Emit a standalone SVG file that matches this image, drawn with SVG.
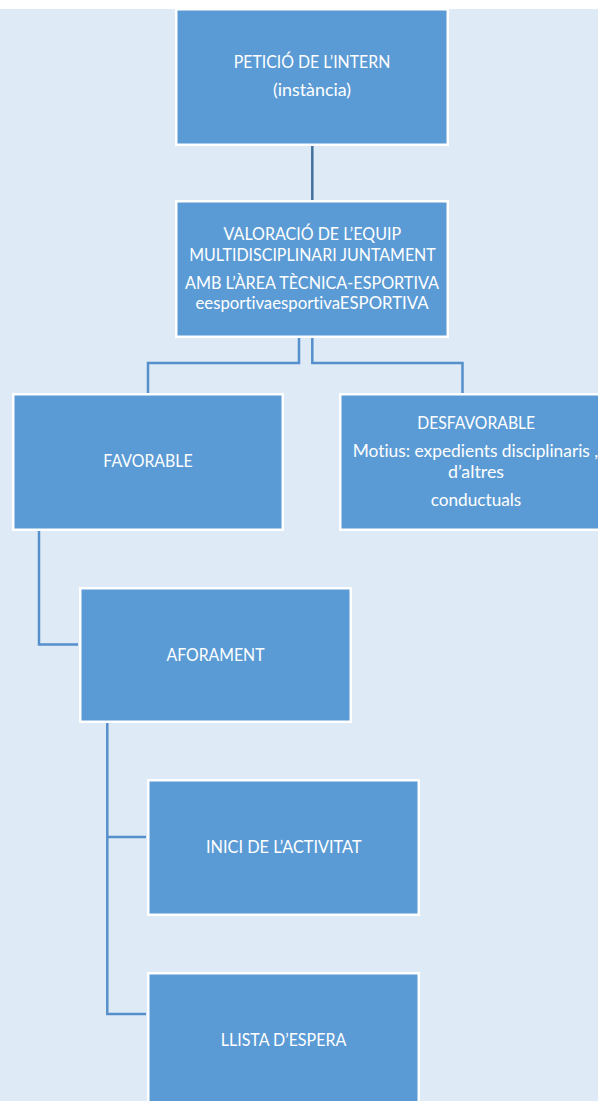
<svg xmlns="http://www.w3.org/2000/svg" width="598" height="1101" viewBox="0 0 598 1101">
  <style>
    .bg { fill: #DEEAF6; }
    .box { fill: #5B9BD5; stroke: #FFFFFF; stroke-width: 2.5; }
    .lbl { font-family: Lato, "Open Sans", "Liberation Sans", sans-serif; font-size: 17px; fill: #FFFFFF; text-anchor: middle; font-variant-ligatures: none; font-feature-settings: "liga" 0, "clig" 0; }
    .link { fill: none; stroke: #5590CC; stroke-width: 2.5; }
    .link-top { stroke: #41719C; }
  </style>

  <!-- page background -->
  <rect x="0" y="0" width="598" height="1101" fill="#FFFFFF"/>
  <rect class="bg" x="0" y="9" width="598" height="1092"/>

  <!-- connectors -->
  <g id="connectors">
    <path class="link link-top" d="M312.3 146 V200"/>
    <path class="link" d="M299 338 V363 H148 V393"/>
    <path class="link" d="M312.3 338 V363 H462.5 V393"/>
    <path class="link" d="M39 531 V644.5 H78"/>
    <path class="link" d="M107.3 723 V1014 H146"/>
    <path class="link" d="M107.3 837 H146"/>
  </g>

  <g id="peticio">
    <rect class="box" x="176.25" y="9.25" width="271.5" height="135.5"/>
    <text class="lbl" x="312" y="68.3" textLength="156.5" lengthAdjust="spacingAndGlyphs">PETICIÓ DE L’INTERN</text>
    <text class="lbl" x="312" y="95.7" textLength="78" lengthAdjust="spacingAndGlyphs">(instància)</text>
  </g>

  <g id="valoracio">
    <rect class="box" x="176.25" y="201.25" width="271.5" height="135.5"/>
    <text class="lbl" x="312.3" y="240" textLength="177.5" lengthAdjust="spacingAndGlyphs">VALORACIÓ DE L’EQUIP</text>
    <text class="lbl" x="312.5" y="261" textLength="246.5" lengthAdjust="spacingAndGlyphs">MULTIDISCIPLINARI JUNTAMENT</text>
    <text class="lbl" x="312" y="289.3" textLength="254" lengthAdjust="spacingAndGlyphs">AMB L’ÀREA TÈCNICA-ESPORTIVA</text>
    <text class="lbl" x="312" y="309.3" textLength="233" lengthAdjust="spacingAndGlyphs">eesportivaesportivaESPORTIVA</text>
  </g>

  <g id="favorable">
    <rect class="box" x="13.25" y="394.25" width="269.5" height="135.5"/>
    <text class="lbl" x="148" y="467.3" textLength="89.3" lengthAdjust="spacingAndGlyphs">FAVORABLE</text>
  </g>

  <g id="desfavorable">
    <rect class="box" x="340.25" y="394.25" width="271.5" height="135.5"/>
    <text class="lbl" x="476.2" y="429.3" textLength="118" lengthAdjust="spacingAndGlyphs">DESFAVORABLE</text>
    <text class="lbl" x="475.5" y="457.3" textLength="245.5" lengthAdjust="spacingAndGlyphs">Motius: expedients disciplinaris ,</text>
    <text class="lbl" x="476" y="478.3" textLength="56" lengthAdjust="spacingAndGlyphs">d’altres</text>
    <text class="lbl" x="476" y="506" textLength="90.5" lengthAdjust="spacingAndGlyphs">conductuals</text>
  </g>

  <g id="aforament">
    <rect class="box" x="80.25" y="588.25" width="270.5" height="133.5"/>
    <text class="lbl" x="215.5" y="660.7" textLength="98" lengthAdjust="spacingAndGlyphs">AFORAMENT</text>
  </g>

  <g id="inici">
    <rect class="box" x="148.25" y="780.25" width="270.5" height="134.5"/>
    <text class="lbl" x="283.8" y="853.3" textLength="155.5" lengthAdjust="spacingAndGlyphs">INICI DE L’ACTIVITAT</text>
  </g>

  <g id="llista">
    <rect class="box" x="148.25" y="973.25" width="270.5" height="134.5"/>
    <text class="lbl" x="283.5" y="1046" textLength="125.5" lengthAdjust="spacingAndGlyphs">LLISTA D’ESPERA</text>
  </g>
</svg>
